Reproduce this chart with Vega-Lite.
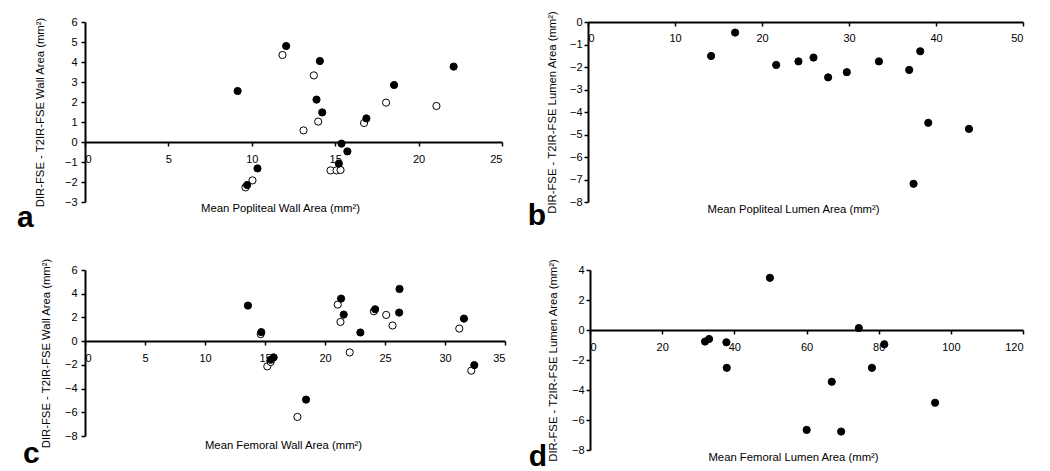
{
  "$schema": "https://vega.github.io/schema/vega-lite/v6.json",
  "padding": {"left": 17, "top": 10, "right": 5, "bottom": 0},
  "config": {
    "font": "Liberation Sans",
    "view": {"stroke": null},
    "axis": {
      "grid": false,
      "domainColor": "black",
      "domainWidth": 2,
      "tickColor": "black",
      "tickWidth": 1.5,
      "tickSize": 4,
      "labelColor": "black",
      "labelFontSize": 11,
      "labelFont": "Liberation Sans",
      "titleColor": "black",
      "titleFontSize": 11.3,
      "titleFontWeight": "normal",
      "titleFont": "Liberation Sans",
      "titleLimit": 400
    },
    "title": {"fontSize": 30, "fontWeight": "bold", "color": "black", "font": "Liberation Sans"}
  },
  "spacing": 24,
  "vconcat": [
    {
      "spacing": 24,
      "hconcat": [
        {
          "width": 417,
          "height": 180,
          "title": {"text": "a", "orient": "left", "angle": 0, "anchor": "start", "frame": "group", "align": "right", "baseline": "alphabetic", "offset": -16, "dy": 25},
          "data": {"values": [
            {"mean": 11.84, "diff": 4.35, "type": "open"},
            {"mean": 13.72, "diff": 3.33, "type": "open"},
            {"mean": 13.98, "diff": 1.02, "type": "open"},
            {"mean": 13.1, "diff": 0.58, "type": "open"},
            {"mean": 18.05, "diff": 1.97, "type": "open"},
            {"mean": 21.07, "diff": 1.8, "type": "open"},
            {"mean": 16.73, "diff": 0.95, "type": "open"},
            {"mean": 14.72, "diff": -1.42, "type": "open"},
            {"mean": 15.08, "diff": -1.42, "type": "open"},
            {"mean": 15.32, "diff": -1.4, "type": "open"},
            {"mean": 10.04, "diff": -1.92, "type": "open"},
            {"mean": 9.62, "diff": -2.27, "type": "open"},
            {"mean": 9.15, "diff": 2.55, "type": "filled"},
            {"mean": 12.06, "diff": 4.8, "type": "filled"},
            {"mean": 14.08, "diff": 4.05, "type": "filled"},
            {"mean": 13.88, "diff": 2.12, "type": "filled"},
            {"mean": 14.22, "diff": 1.48, "type": "filled"},
            {"mean": 22.1, "diff": 3.77, "type": "filled"},
            {"mean": 18.53, "diff": 2.85, "type": "filled"},
            {"mean": 16.87, "diff": 1.18, "type": "filled"},
            {"mean": 15.38, "diff": -0.08, "type": "filled"},
            {"mean": 15.73, "diff": -0.47, "type": "filled"},
            {"mean": 15.22, "diff": -1.08, "type": "filled"},
            {"mean": 10.34, "diff": -1.32, "type": "filled"},
            {"mean": 9.72, "diff": -2.15, "type": "filled"}
          ]},
          "mark": {"type": "point", "shape": "circle", "filled": true, "stroke": "black", "strokeWidth": 1, "opacity": 1, "size": 52},
          "encoding": {
            "x": {"field": "mean", "type": "quantitative", "scale": {"domain": [0, 25], "nice": false},
              "axis": {"values": [0, 5, 10, 15, 20, 25], "offset": -60, "labelPadding": 7, "title": "Mean Popliteal Wall Area (mm²)", "titleY": 60, "titleX": 195, "titleBaseline": "top"}},
            "y": {"field": "diff", "type": "quantitative", "scale": {"domain": [-3, 6], "nice": false},
              "axis": {"values": [-3, -2, -1, 0, 1, 2, 3, 4, 5, 6], "labelPadding": 4, "title": "DIR-FSE - T2IR-FSE Wall Area (mm²)", "titlePadding": 19}},
            "fill": {"field": "type", "type": "nominal", "scale": {"domain": ["filled", "open"], "range": ["black", "white"]}, "legend": null}
          }
        },
        {
          "width": 435,
          "height": 180,
          "title": {"text": "b", "orient": "left", "angle": 0, "anchor": "start", "frame": "group", "align": "right", "baseline": "alphabetic", "offset": -18, "dy": 23},
          "data": {"values": [
            {"mean": 14.15, "diff": -1.51},
            {"mean": 16.91, "diff": -0.47},
            {"mean": 21.63, "diff": -1.91},
            {"mean": 24.19, "diff": -1.75},
            {"mean": 25.92, "diff": -1.58},
            {"mean": 27.6, "diff": -2.46},
            {"mean": 29.75, "diff": -2.23},
            {"mean": 33.44, "diff": -1.75},
            {"mean": 36.92, "diff": -2.13},
            {"mean": 38.19, "diff": -1.3},
            {"mean": 39.11, "diff": -4.48},
            {"mean": 43.79, "diff": -4.75},
            {"mean": 37.42, "diff": -7.19}
          ]},
          "mark": {"type": "point", "shape": "circle", "filled": true, "fill": "black", "stroke": "black", "strokeWidth": 1, "opacity": 1, "size": 52},
          "encoding": {
            "x": {"field": "mean", "type": "quantitative", "scale": {"domain": [0, 50], "nice": false},
              "axis": {"values": [0, 10, 20, 30, 40, 50], "offset": -180, "labelPadding": 6, "title": "Mean Popliteal Lumen Area (mm²)", "titleY": 181, "titleX": 205, "titleBaseline": "top"}},
            "y": {"field": "diff", "type": "quantitative", "scale": {"domain": [-8, 0], "nice": false},
              "axis": {"values": [-8, -7, -6, -5, -4, -3, -2, -1, 0], "labelPadding": 2, "title": "DIR-FSE - T2IR-FSE Lumen Area (mm²)", "titlePadding": 12}}
          }
        }
      ]
    },
    {
      "spacing": 22,
      "hconcat": [
        {
          "width": 420,
          "height": 166,
          "title": {"text": "c", "orient": "left", "angle": 0, "anchor": "start", "frame": "group", "align": "right", "baseline": "alphabetic", "offset": -16, "dy": 27},
          "data": {"values": [
            {"mean": 21.06, "diff": 3.08, "type": "open"},
            {"mean": 21.29, "diff": 1.62, "type": "open"},
            {"mean": 24.07, "diff": 2.52, "type": "open"},
            {"mean": 25.1, "diff": 2.21, "type": "open"},
            {"mean": 25.63, "diff": 1.32, "type": "open"},
            {"mean": 22.06, "diff": -0.95, "type": "open"},
            {"mean": 31.19, "diff": 1.06, "type": "open"},
            {"mean": 32.19, "diff": -2.49, "type": "open"},
            {"mean": 14.64, "diff": 0.59, "type": "open"},
            {"mean": 15.19, "diff": -2.13, "type": "open"},
            {"mean": 15.47, "diff": -1.76, "type": "open"},
            {"mean": 17.7, "diff": -6.39, "type": "open"},
            {"mean": 13.58, "diff": 3.0, "type": "filled"},
            {"mean": 14.69, "diff": 0.76, "type": "filled"},
            {"mean": 15.47, "diff": -1.57, "type": "filled"},
            {"mean": 15.72, "diff": -1.37, "type": "filled"},
            {"mean": 21.34, "diff": 3.59, "type": "filled"},
            {"mean": 21.56, "diff": 2.24, "type": "filled"},
            {"mean": 22.95, "diff": 0.73, "type": "filled"},
            {"mean": 24.18, "diff": 2.69, "type": "filled"},
            {"mean": 26.21, "diff": 4.4, "type": "filled"},
            {"mean": 26.18, "diff": 2.41, "type": "filled"},
            {"mean": 31.58, "diff": 1.9, "type": "filled"},
            {"mean": 32.44, "diff": -2.02, "type": "filled"},
            {"mean": 18.42, "diff": -4.93, "type": "filled"}
          ]},
          "mark": {"type": "point", "shape": "circle", "filled": true, "stroke": "black", "strokeWidth": 1, "opacity": 1, "size": 52},
          "encoding": {
            "x": {"field": "mean", "type": "quantitative", "scale": {"domain": [0, 35], "nice": false},
              "axis": {"values": [0, 5, 10, 15, 20, 25, 30, 35], "offset": -95, "labelPadding": 7, "title": "Mean Femoral Wall Area (mm²)", "titleY": 98, "titleX": 198, "titleBaseline": "top"}},
            "y": {"field": "diff", "type": "quantitative", "scale": {"domain": [-8, 6], "nice": false},
              "axis": {"values": [-8, -6, -4, -2, 0, 2, 4, 6], "labelPadding": 4, "title": "DIR-FSE - T2IR-FSE Wall Area (mm²)", "titlePadding": 13}},
            "fill": {"field": "type", "type": "nominal", "scale": {"domain": ["filled", "open"], "range": ["black", "white"]}, "legend": null}
          }
        },
        {
          "width": 433,
          "height": 180,
          "title": {"text": "d", "orient": "left", "angle": 0, "anchor": "start", "frame": "group", "align": "right", "baseline": "alphabetic", "offset": -18, "dy": 16},
          "data": {"values": [
            {"mean": 31.88, "diff": -0.77},
            {"mean": 33.0, "diff": -0.6},
            {"mean": 37.8, "diff": -0.82},
            {"mean": 37.9, "diff": -2.52},
            {"mean": 49.86, "diff": 3.48},
            {"mean": 74.5, "diff": 0.13},
            {"mean": 81.56, "diff": -0.95},
            {"mean": 78.13, "diff": -2.52},
            {"mean": 67.0, "diff": -3.45},
            {"mean": 60.05, "diff": -6.66},
            {"mean": 69.6, "diff": -6.77},
            {"mean": 95.64, "diff": -4.85}
          ]},
          "mark": {"type": "point", "shape": "circle", "filled": true, "fill": "black", "stroke": "black", "strokeWidth": 1, "opacity": 1, "size": 52},
          "encoding": {
            "x": {"field": "mean", "type": "quantitative", "scale": {"domain": [0, 120], "nice": false},
              "axis": {"values": [0, 20, 40, 60, 80, 100, 120], "offset": -120, "labelPadding": 7, "title": "Mean Femoral Lumen Area (mm²)", "titleY": 121, "titleX": 203, "titleBaseline": "top"}},
            "y": {"field": "diff", "type": "quantitative", "scale": {"domain": [-8, 4], "nice": false},
              "axis": {"values": [-8, -6, -4, -2, 0, 2, 4], "labelPadding": 2, "title": "DIR-FSE - T2IR-FSE Lumen Area (mm²)", "titlePadding": 13}}
          }
        }
      ]
    }
  ]
}
